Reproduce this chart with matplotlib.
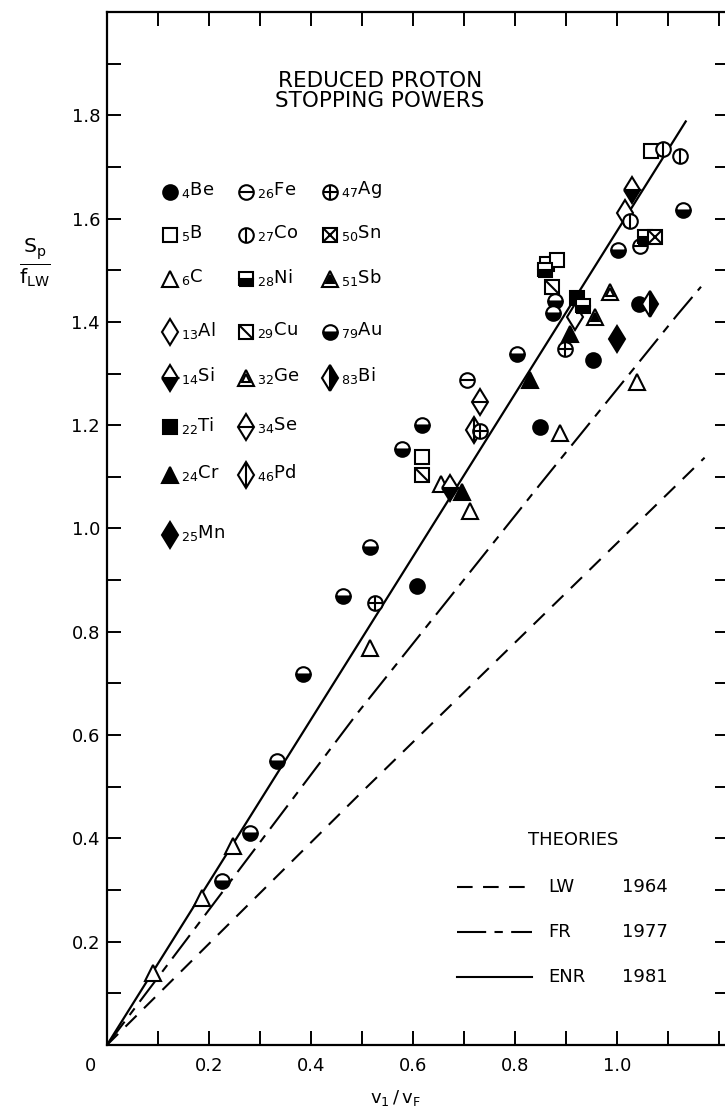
import matplotlib.pyplot as plt
from matplotlib.ticker import MultipleLocator, FuncFormatter

plt.rcParams['font.family'] = ['DejaVu Sans']
plt.rcParams['mathtext.default'] = 'regular'

# reduced stopping powers: x = v1/vF, y = Sp/fLW
be_x = [0.608, 0.849, 0.953, 1.043]
be_y = [0.888, 1.197, 1.326, 1.434]
b_x = [0.618, 0.863, 0.882, 1.066]
b_y = [1.139, 1.512, 1.519, 1.730]
c_x = [0.091, 0.186, 0.247, 0.516, 0.655, 0.712, 0.888, 1.039]
c_y = [0.139, 0.284, 0.386, 0.768, 1.087, 1.033, 1.184, 1.284]
al_x = [0.918, 1.015]
al_y = [1.410, 1.610]
si_x = [0.672, 1.030]
si_y = [1.078, 1.655]
ti_x = [0.921]
ti_y = [1.446]
cr_x = [0.696, 0.829, 0.908]
cr_y = [1.071, 1.288, 1.376]
mn_x = [1.000]
mn_y = [1.367]
fe_x = [0.706, 1.045]
fe_y = [1.288, 1.546]
co_x = [1.025, 1.090, 1.123]
co_y = [1.595, 1.735, 1.722]
ni_x = [0.859, 0.933, 1.055]
ni_y = [1.500, 1.430, 1.565]
cu_x = [0.618, 0.872]
cu_y = [1.104, 1.467]
ge_x = [0.986]
ge_y = [1.458]
se_x = [0.731]
se_y = [1.245]
pd_x = [0.720]
pd_y = [1.190]
ag_x = [0.525, 0.732, 0.898]
ag_y = [0.855, 1.188, 1.348]
sn_x = [1.075]
sn_y = [1.565]
sb_x = [0.957]
sb_y = [1.409]
au_x = [0.225, 0.280, 0.333, 0.384, 0.463, 0.516, 0.578, 0.618,
        0.804, 0.875, 0.878, 1.002, 1.129]
au_y = [0.318, 0.411, 0.550, 0.718, 0.869, 0.965, 1.154, 1.201,
        1.338, 1.418, 1.440, 1.539, 1.616]
bi_x = [1.065]
bi_y = [1.434]

# theory curves
lw_x = [0, 0.500, 1.118, 1.172]
lw_y = [0, 0.490, 1.085, 1.137]
fr_x = [0, 0.490, 0.849, 1.118, 1.165]
fr_y = [0, 0.641, 1.085, 1.413, 1.468]
enr_x = [0, 1.135]
enr_y = [0, 1.788]

# legend layout: element, atomic number, column
legend_cols = [
    [('Be', 4), ('B', 5), ('C', 6), ('Al', 13), ('Si', 14), ('Ti', 22), ('Cr', 24), ('Mn', 25)],
    [('Fe', 26), ('Co', 27), ('Ni', 28), ('Cu', 29), ('Ge', 32), ('Se', 34), ('Pd', 46)],
    [('Ag', 47), ('Sn', 50), ('Sb', 51), ('Au', 79), ('Bi', 83)],
]

data = {'Be': (be_x, be_y), 'B': (b_x, b_y), 'C': (c_x, c_y), 'Al': (al_x, al_y),
        'Si': (si_x, si_y), 'Ti': (ti_x, ti_y), 'Cr': (cr_x, cr_y), 'Mn': (mn_x, mn_y),
        'Fe': (fe_x, fe_y), 'Co': (co_x, co_y), 'Ni': (ni_x, ni_y), 'Cu': (cu_x, cu_y),
        'Ge': (ge_x, ge_y), 'Se': (se_x, se_y), 'Pd': (pd_x, pd_y), 'Ag': (ag_x, ag_y),
        'Sn': (sn_x, sn_y), 'Sb': (sb_x, sb_y), 'Au': (au_x, au_y), 'Bi': (bi_x, bi_y)}

DIAG = [(-1, 1), (1, -1)]
# base marker, fill, overlays (marker, size factor, face)
STYLE = {
    'Be': ('o', 'full', []), 'B': ('s', 'open', []), 'C': ('^', 'open', []),
    'Al': ('d', 'open', []), 'Si': ('d', 'bottom', []), 'Ti': ('s', 'full', []),
    'Cr': ('^', 'full', []), 'Mn': ('d', 'full', []),
    'Fe': ('o', 'open', [('_', 1.0, 'none')]), 'Co': ('o', 'open', [('|', 1.0, 'none')]),
    'Ni': ('s', 'bottom', []), 'Cu': ('s', 'open', [(DIAG, 1.0, 'none')]),
    'Ge': ('^', 'open', [('^', 0.45, 'white')]), 'Se': ('d', 'open', [('_', 0.85, 'none')]),
    'Pd': ('d', 'open', [('|', 1.41, 'none')]),
    'Ag': ('o', 'open', [('+', 1.0, 'none')]), 'Sn': ('s', 'open', [('x', 1.0, 'none')]),
    'Sb': ('^', 'open', [('^', 0.45, 'k')]), 'Au': ('o', 'bottom', []),
    'Bi': ('d', 'right', []),
}
SCALE = {'o': 1.0, 's': 0.95, '^': 1.08, 'd': 1.3}


def put(ax, x, y, el, ms=10.5, **kw):
    m, fill, over = STYLE[el]
    ms = ms * SCALE[m]
    k = dict(ls='none', mec='k', mew=1.5, ms=ms, zorder=3)
    k.update(kw)
    if fill == 'open':
        ax.plot(x, y, marker=m, mfc='white', **k)
    elif fill == 'full':
        ax.plot(x, y, marker=m, mfc='k', **k)
    else:
        ax.plot(x, y, marker=m, mfc='k', markerfacecoloralt='white', fillstyle=fill, **k)
    for om, f, face in over:
        k2 = dict(k)
        k2['ms'] = ms * f
        k2['zorder'] = 4
        ax.plot(x, y, marker=om, mfc=face, **k2)


fig = plt.figure(figsize=(7.25, 11.17), dpi=100)
ax = fig.add_axes([0.1476, 0.0645, 0.858, 0.9248])

# theory lines
ax.plot(lw_x, lw_y, color='k', lw=1.5, dashes=(7.5, 5), zorder=2)
ax.plot(fr_x, fr_y, color='k', lw=1.5, dashes=(14, 4, 4, 4), zorder=2)
ax.plot(enr_x, enr_y, color='k', lw=1.6, zorder=2)

for el, (xs, ys) in data.items():
    put(ax, xs, ys, el)

ax.set_xlim(0, 1.22)
ax.set_ylim(0, 2.0)
ax.xaxis.set_major_locator(MultipleLocator(0.2))
ax.xaxis.set_minor_locator(MultipleLocator(0.1))
ax.yaxis.set_major_locator(MultipleLocator(0.2))
ax.yaxis.set_minor_locator(MultipleLocator(0.1))
ax.xaxis.set_major_formatter(FuncFormatter(lambda v, p: '' if v < 0.05 or v > 1.1 else '%.1f' % v))
ax.yaxis.set_major_formatter(FuncFormatter(lambda v, p: '' if v < 0.05 or v > 1.9 else '%.1f' % v))
ax.tick_params(which='both', direction='in', length=10, width=1.4, top=True, right=True,
               labelsize=13)
ax.tick_params(axis='x', pad=9)
ax.tick_params(axis='y', pad=5)
for s in ax.spines.values():
    s.set_linewidth(1.6)

fig.text(90 / 725, 1 - 1066 / 1117, '0', fontsize=13, ha='center', va='center')
fig.text(0.048, 0.765, r'$\frac{S_p}{f_{LW}}$', fontsize=21, ha='center', va='center')
fig.text(0.545, 0.017, r'$v_1\,/\,v_F$', fontsize=13, ha='center', va='center')

ax.text(0.439, 0.9235, 'REDUCED PROTON\nSTOPPING POWERS', transform=ax.transAxes,
        ha='center', va='center', fontsize=15.5, linespacing=1.0)

# symbol key
col_x = [0.101, 0.2235, 0.3585]
row_y = [0.826, 0.784, 0.741, 0.690, 0.646, 0.598, 0.552, 0.494]
for ci, col in enumerate(legend_cols):
    for ri, (el, z) in enumerate(col):
        put(ax, [col_x[ci]], [row_y[ri]], el, transform=ax.transAxes, clip_on=False)
        ax.text(col_x[ci] + 0.018, row_y[ri] + 0.002, r'$_{%d}$%s' % (z, el),
                transform=ax.transAxes, ha='left', va='center', fontsize=13)

# theories key
ax.text(0.749, 0.198, 'THEORIES', transform=ax.transAxes, ha='center', va='center', fontsize=13)
keys = [('LW', '1964', dict(dashes=(7.5, 5))), ('FR', '1977', dict(dashes=(14, 4, 4, 4))),
        ('ENR', '1981', {})]
key_y = [0.153, 0.109, 0.066]
for (nm, yr, st), yy in zip(keys, key_y):
    ax.plot([0.563, 0.683], [yy, yy], color='k', lw=1.5, transform=ax.transAxes, **st)
    ax.text(0.709, yy, nm, transform=ax.transAxes, ha='left', va='center', fontsize=13)
    ax.text(0.828, yy, yr, transform=ax.transAxes, ha='left', va='center', fontsize=13)

fig.savefig('out.png', dpi=100)
